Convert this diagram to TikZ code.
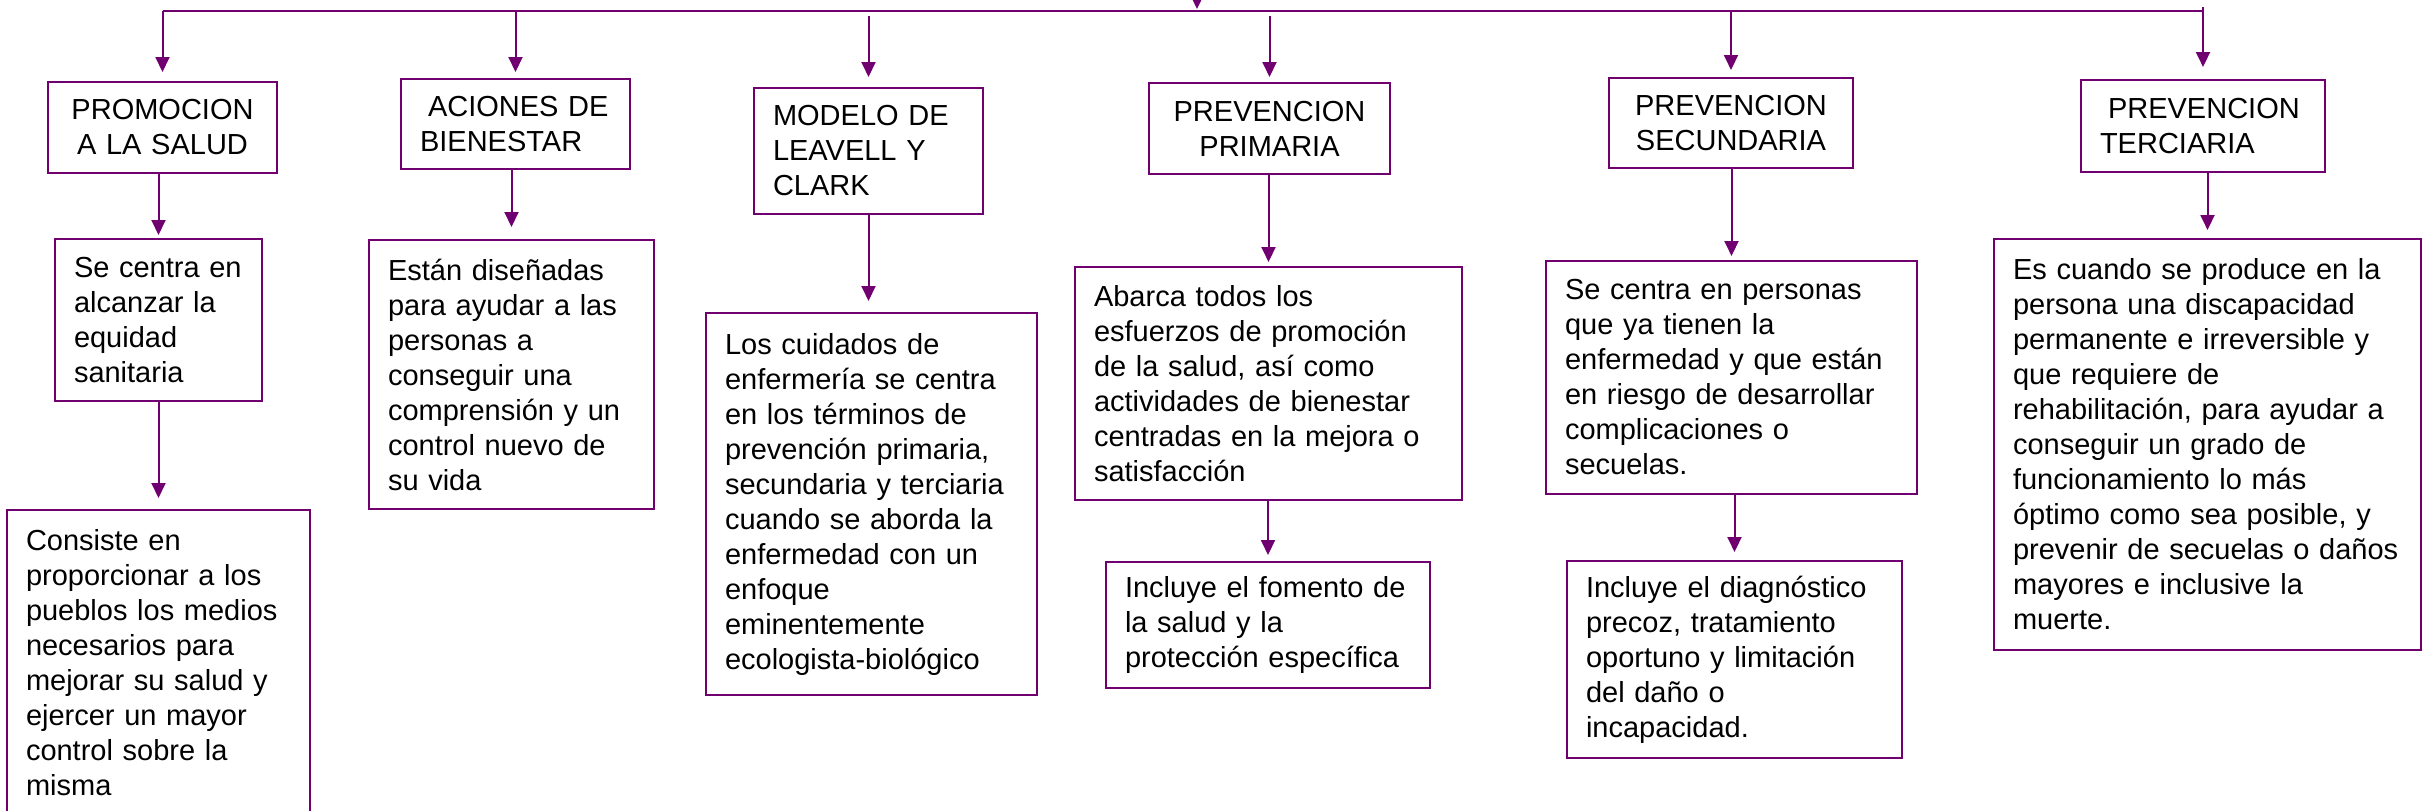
\documentclass[tikz,border=0pt]{standalone}
\usepackage{fontspec}
\setmainfont{Liberation Sans}
\usetikzlibrary{arrows.meta}
\definecolor{morado}{RGB}{112,0,112}

\begin{document}
\begin{tikzpicture}[x = 1pt, y = -1pt,
caja/.style = {draw = morado, line width = 2pt, shape = rectangle, anchor = north west, inner xsep = 19pt, inner ysep = 0pt, font = \fontsize{29}{35}\selectfont, align = left},
titulo/.style = {caja, align = center},
flecha/.style = {draw = morado, line width = 2pt, -{Triangle[length = 15pt, width = 14pt]}}]
\useasboundingbox (0,0) rectangle (2433,811);
\clip (0,0) rectangle (2433,811);

\node[titulo, minimum width = 229pt, minimum height = 91pt, text width = 191pt] (promocion) at (47,81) {PROMOCION\\A LA SALUD};
\node[caja, minimum width = 229pt, minimum height = 90pt, text width = 191pt] (acciones) at (400,78) {\hspace*{8pt}ACIONES DE\\BIENESTAR};
\node[caja, minimum width = 229pt, minimum height = 126pt, text width = 191pt] (modelo) at (753,87) {MODELO DE\\LEAVELL Y\\CLARK};
\node[titulo, minimum width = 241pt, minimum height = 91pt, text width = 203pt] (primaria) at (1148,82) {PREVENCION\\PRIMARIA};
\node[titulo, minimum width = 244pt, minimum height = 90pt, text width = 206pt] (secundaria) at (1608,77) {PREVENCION\\SECUNDARIA};
\node[caja, minimum width = 244pt, minimum height = 92pt, text width = 206pt] (terciaria) at (2080,79) {\hspace*{8pt}PREVENCION\\TERCIARIA};

\node[caja, minimum width = 207pt, minimum height = 162pt, text width = 169pt] (alcanzar) at (54,238) {Se centra en\\alcanzar la\\equidad\\sanitaria};
\node[caja, minimum width = 303pt, minimum height = 350pt, text width = 265pt] (consiste) at (6,509) {Consiste en\\proporcionar a los\\pueblos los medios\\necesarios para\\mejorar su salud y\\ejercer un mayor\\control sobre la\\misma\\ \strut};
\node[caja, minimum width = 285pt, minimum height = 269pt, text width = 247pt] (disenadas) at (368,239) {Están diseñadas\\para ayudar a las\\personas a\\conseguir una\\comprensión y un\\control nuevo de\\su vida};
\node[caja, minimum width = 331pt, minimum height = 382pt, text width = 293pt] (cuidados) at (705,312) {Los cuidados de\\enfermería se centra\\en los términos de\\prevención primaria,\\secundaria y terciaria\\cuando se aborda la\\enfermedad con un\\enfoque\\eminentemente\\ecologista-biológico};
\node[caja, minimum width = 387pt, minimum height = 233pt, text width = 349pt] (abarca) at (1074,266) {Abarca todos los\\esfuerzos de promoción\\de la salud, así como\\actividades de bienestar\\centradas en la mejora o\\satisfacción};
\node[caja, minimum width = 324pt, minimum height = 126pt, text width = 286pt] (fomento) at (1105,561) {Incluye el fomento de\\la salud y la\\protección específica};
\node[caja, minimum width = 371pt, minimum height = 233pt, text width = 333pt] (personas) at (1545,260) {Se centra en personas\\que ya tienen la\\enfermedad y que están\\en riesgo de desarrollar\\complicaciones o\\secuelas.};
\node[caja, minimum width = 335pt, minimum height = 197pt, text width = 297pt] (diagnostico) at (1566,560) {Incluye el diagnóstico\\precoz, tratamiento\\oportuno y limitación\\del daño o\\incapacidad.};
\node[caja, minimum width = 427pt, minimum height = 411pt, text width = 389pt] (cuando) at (1993,238) {Es cuando se produce en la\\persona una discapacidad\\permanente e irreversible y\\que requiere de\\rehabilitación, para ayudar a\\conseguir un grado de\\funcionamiento lo más\\óptimo como sea posible, y\\prevenir de secuelas o daños\\mayores e inclusive la\\muerte.};

\coordinate (entrada) at (1197,-30);
\coordinate (llegada) at (1197,9);
\coordinate (bus) at (0,11);
\draw[flecha] (entrada) -- (llegada);
\draw[morado, line width = 2pt] (bus -| promocion.north) -- (bus -| terciaria.north) -- ++(0,-4);

\draw[flecha, shorten >= 9pt] (bus -| promocion.north) -- (promocion.north);
\draw[flecha, shorten >= 6pt] (bus -| acciones.north) -- (acciones.north);
\draw[flecha, shorten <= 5pt, shorten >= 10pt] (bus -| modelo.north) -- (modelo.north);
\draw[flecha, shorten <= 5pt, shorten >= 5pt] (bus -| primaria.north) -- (primaria.north);
\draw[flecha, shorten >= 7pt] (bus -| secundaria.north) -- (secundaria.north);
\draw[flecha, shorten >= 12pt] (bus -| terciaria.north) -- (terciaria.north);

\draw[flecha, shorten >= 3pt] (alcanzar.north |- promocion.south) -- (alcanzar.north);
\draw[flecha, shorten >= 11pt] (consiste.north |- alcanzar.south) -- (consiste.north);
\draw[flecha, shorten >= 12pt] (disenadas.north |- acciones.south) -- (disenadas.north);
\draw[flecha, shorten >= 11pt] (modelo.south) -- (modelo.south |- cuidados.north);
\draw[flecha, shorten >= 4pt] (abarca.north |- primaria.south) -- (abarca.north);
\draw[flecha, shorten >= 6pt] (fomento.north |- abarca.south) -- (fomento.north);
\draw[flecha, shorten >= 4pt] (personas.north |- secundaria.south) -- (personas.north);
\draw[flecha, shorten >= 8pt] (diagnostico.north |- personas.south) -- (diagnostico.north);
\draw[flecha, shorten >= 8pt] (cuando.north |- terciaria.south) -- (cuando.north);
\end{tikzpicture}
\end{document}
